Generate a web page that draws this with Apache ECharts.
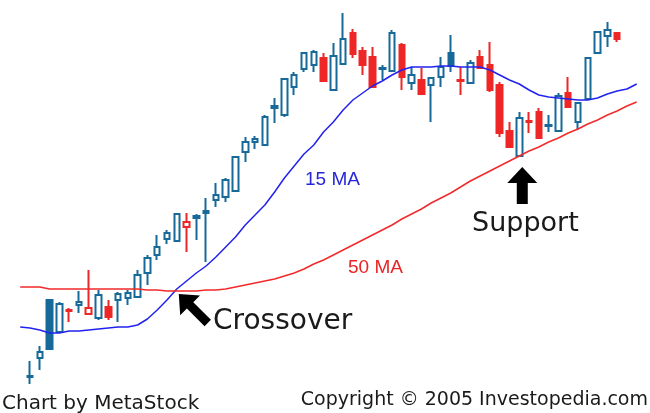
<!DOCTYPE html>
<html><head><meta charset="utf-8">
<script src="https://cdn.jsdelivr.net/npm/echarts@6/dist/echarts.min.js"></script>
<style>html,body{margin:0;padding:0;background:#fff}#c{width:650px;height:413px}</style>
</head><body><div id="c"></div>
<script>
// Daily bars (price units), one entry per candle
const opens  = [23,42,100,68,90,95,86,82,93,100,102,103,127,145,161,159,173,184,189,200,203,209,248,258,255,294,285,313,331,335,342,310,336,367,349,343,331,329,355,317,320,315,323,347,320,317,343,335,315,269,244,279,288,274,269,307,278,301,347,364,367];
const closes = [24,48,51,96,89,98,92,105,83,106,107,125,142,153,167,186,178,182,187,205,220,243,258,261,283,292,321,325,347,348,319,344,361,346,335,313,332,367,323,325,306,322,333,334,319,337,332,310,267,253,282,278,262,275,304,293,297,342,368,370,361];
const lows   = [16,30,50,67,78,87,85,80,80,78,95,102,115,140,156,158,148,160,138,193,198,208,238,251,254,277,283,305,328,328,318,309,335,342,325,312,320,328,310,310,305,278,313,328,305,317,331,308,263,252,243,267,261,268,268,292,270,300,347,353,358];
const highs  = [39,54,101,98,92,109,130,110,100,108,110,130,145,165,170,187,187,186,202,217,222,243,263,264,285,302,322,328,348,350,347,357,387,371,353,353,335,370,357,333,332,323,343,365,333,340,350,358,318,278,288,288,292,285,307,323,298,343,368,378,368];
// Moving averages, one value per category slot (slot 0 precedes the first bar)
const ma15 = [73,72,70,67,67,69,69,70,71,72,73,73,75,81,90,100,111,119,127,134,143,153,163,175,185,195,208,222,234,246,255,268,278,290,300,307,314,319,325,330,333,333,333,334,334,333,333,333,330,325,320,316,310,305,303,302,301,300,300,302,306,309,311,316];
const ma50 = [113,113,113,111,111,111,111,111,111,111,111,111,111,110,110,109,109,109,109,110,110,111,113,115,117,119,121,124,127,131,136,140,145,150,155,160,165,170,175,181,186,191,197,202,207,213,219,224,229,234,239,244,249,253,258,262,267,271,276,280,285,289,294,298];
const maLabels = ['15 MA', '50 MA'];
const annotations = ['Crossover', 'Support'];
const footerLeft = 'Chart by MetaStock';
const footerRight = 'Copyright \u00A9 2005 Investopedia.com';

const BLUE = '#17699a', RED = '#ee2626', LINE_BLUE = '#2222ee', LINE_RED = '#f22a2a';
const categories = ma15.map((_, k) => 'P' + k);
const candleData = categories.map((c, k) => {
  const i = k - 1;
  if (i < 0 || i >= opens.length) return ['-', '-', '-', '-'];
  const prev = i > 0 ? closes[i - 1] : closes[i];
  const col = closes[i] >= prev ? BLUE : RED;
  const fill = closes[i] > opens[i] ? '#ffffff' : col;
  return { value: [opens[i], closes[i], lows[i], highs[i]],
           itemStyle: { color: fill, color0: fill, borderColor: col, borderColor0: col } };
});

const chart = echarts.init(document.getElementById('c'), null, { renderer: 'canvas' });
chart.setOption({
  animation: false,
  backgroundColor: '#ffffff',
  grid: { left: 15.3, width: 626.3, top: 0, height: 400 },
  xAxis: { type: 'category', data: categories, boundaryGap: true, show: false },
  yAxis: { type: 'value', min: 0, max: 400, show: false },
  series: [
    { type: 'candlestick', data: candleData, barWidth: 6,
      itemStyle: { borderWidth: 2 } },
    { type: 'line', data: ma15, symbol: 'none', smooth: false, z: 5,
      lineStyle: { color: LINE_BLUE, width: 1.5 } },
    { type: 'line', data: ma50, symbol: 'none', smooth: false, z: 5,
      lineStyle: { color: LINE_RED, width: 1.5 } }
  ]
});

function arrow(tx, ty, ang, h, w, s, L) {
  const ux = Math.cos(ang), uy = Math.sin(ang), vx = -uy, vy = ux;
  const pts = [[0,0],[h,-w],[h,-s],[L,-s],[L,s],[h,s],[h,w]]
    .map(([u, v]) => [tx + u * ux + v * vx, ty + u * uy + v * vy]);
  return { type: 'polygon', shape: { points: pts }, style: { fill: '#000' }, z: 100 };
}
const cross = chart.convertToPixel({ gridIndex: 0 }, [categories[16], ma50[16]]);
const supp = chart.convertToPixel({ gridIndex: 0 }, [categories[51], lows[50]]);
const font = (s, fam) => s + 'px ' + (fam || '"DejaVu Sans"');
function txt(x, y, text, size, fill, align, fam) {
  return { type: 'text', z: 100, style: { x, y, text, font: font(size, fam), fill, align: align || 'left', verticalAlign: 'middle' } };
}
const maFont = '"Liberation Sans"';
chart.setOption({
  graphic: [
    arrow(cross[0] + 2, cross[1] + 3, Math.PI / 4, 16, 14, 4.5, 41),
    arrow(supp[0] + 3, supp[1] + 10, Math.PI / 2, 16, 15, 5.5, 37),
    txt(305, 180, maLabels[0], 19, '#2626d8', 'left', maFont),
    txt(348, 268, maLabels[1], 19, '#e82424', 'left', maFont),
    txt(213, 322, annotations[0], 28, '#1a1a1a'),
    txt(472, 224, annotations[1], 27, '#1a1a1a'),
    txt(2, 404, footerLeft, 20, '#1a1a1a'),
    txt(648, 400, footerRight, 19, '#1a1a1a', 'right')
  ]
});
</script></body></html>
